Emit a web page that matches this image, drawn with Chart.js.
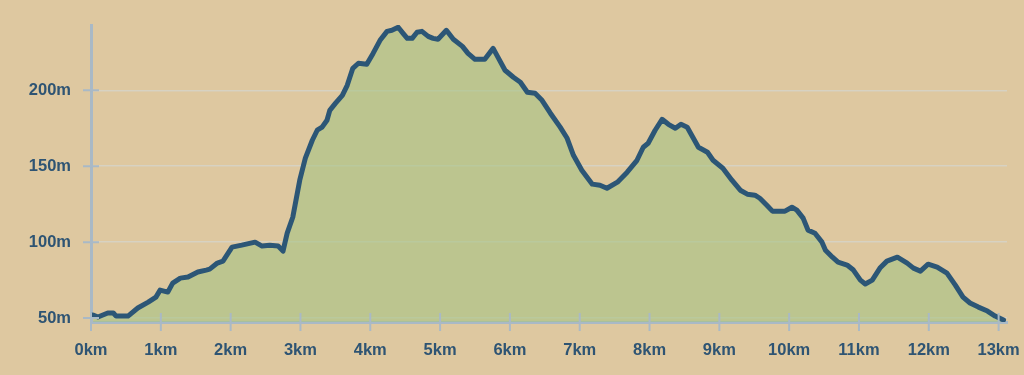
<!DOCTYPE html>
<html>
<head>
<meta charset="utf-8">
<script src="https://cdn.jsdelivr.net/npm/chart.js@4/dist/chart.umd.min.js"></script>
<style>
  html, body { margin: 0; padding: 0; background: #dec8a0; }
  canvas { display: block; }
</style>
</head>
<body>
<canvas id="profile" width="1024" height="375"></canvas>
<script>
// distance along the route (km) and elevation (m)
const distanceKm = [
  0.03, 0.10, 0.24, 0.32, 0.36, 0.53, 0.67, 0.82, 0.93, 0.99,
  1.10, 1.17, 1.28, 1.39, 1.53, 1.65, 1.70, 1.81, 1.89, 2.02,
  2.16, 2.35, 2.45, 2.56, 2.68, 2.75, 2.81, 2.89, 2.99, 3.07,
  3.17, 3.24, 3.31, 3.38, 3.42, 3.50, 3.60, 3.67, 3.75, 3.83,
  3.95, 4.04, 4.14, 4.24, 4.31, 4.40, 4.47, 4.53, 4.60, 4.67,
  4.74, 4.83, 4.90, 4.97, 5.09, 5.19, 5.32, 5.40, 5.50, 5.64,
  5.76, 5.83, 5.93, 6.05, 6.15, 6.25, 6.36, 6.46, 6.58, 6.72,
  6.82, 6.91, 7.03, 7.18, 7.29, 7.39, 7.54, 7.68, 7.82, 7.91,
  7.98, 8.08, 8.18, 8.27, 8.37, 8.45, 8.54, 8.62, 8.70, 8.83,
  8.91, 9.05, 9.18, 9.30, 9.40, 9.51, 9.58, 9.68, 9.76, 9.94,
  10.04, 10.11, 10.20, 10.27, 10.37, 10.47, 10.52, 10.62, 10.70, 10.83,
  10.92, 11.02, 11.09, 11.19, 11.30, 11.40, 11.55, 11.69, 11.78, 11.88,
  11.99, 12.12, 12.26, 12.38, 12.49, 12.59, 12.71, 12.84, 12.95, 13.07
];
const elevationM = [
  52.0, 50.7, 53.3, 53.3, 51.3, 51.3, 56.6, 60.5, 63.8, 68.4,
  67.1, 73.0, 76.3, 77.0, 80.3, 81.6, 82.2, 86.2, 87.5, 96.7,
  98.0, 100.0, 97.4, 98.0, 97.4, 94.1, 105.9, 116.4, 140.8, 155.3,
  167.1, 173.7, 175.7, 180.3, 186.8, 191.4, 196.7, 203.3, 214.5, 217.8,
  217.1, 224.3, 232.9, 238.8, 239.5, 241.5, 237.5, 234.2, 234.2, 238.2,
  238.8, 235.5, 234.2, 233.6, 239.5, 233.6, 228.9, 224.3, 220.4, 220.4,
  227.6, 221.7, 213.2, 208.6, 205.3, 198.7, 198.0, 193.4, 184.9, 175.7,
  168.4, 157.2, 147.4, 138.2, 137.5, 135.5, 139.5, 146.1, 153.9, 162.5,
  165.1, 173.7, 180.9, 177.6, 175.0, 177.6, 175.7, 169.1, 162.5, 159.2,
  153.9, 148.7, 140.8, 134.2, 131.6, 130.9, 128.9, 124.3, 120.4, 120.4,
  123.0, 121.1, 115.8, 107.9, 105.9, 100.0, 94.7, 90.1, 86.8, 84.9,
  81.6, 75.0, 72.4, 75.0, 82.9, 87.5, 90.1, 86.2, 82.9, 80.9,
  85.5, 83.6, 79.6, 71.7, 63.8, 59.9, 57.2, 54.6, 51.3, 48.7
];
const xTicks = [0, 1, 2, 3, 4, 5, 6, 7, 8, 9, 10, 11, 12, 13];
const yTicks = [50, 100, 150, 200];

const axisColor = '#a9b9c6';
const labelColor = '#2e5473';

// little crossing tick marks on both axes
const tickMarks = {
  id: 'tickMarks',
  afterDatasetsDraw(chart) {
    const { ctx, chartArea: a, scales: { x, y } } = chart;
    ctx.save();
    ctx.strokeStyle = axisColor;
    ctx.lineWidth = 2;
    ctx.beginPath();
    yTicks.forEach(v => {
      const py = y.getPixelForValue(v);
      ctx.moveTo(a.left - 8, py);
      ctx.lineTo(a.left + 8, py);
    });
    xTicks.forEach(v => {
      const px = x.getPixelForValue(v);
      ctx.moveTo(px, a.bottom - 9);
      ctx.lineTo(px, a.bottom + 9);
    });
    ctx.stroke();
    ctx.restore();
  }
};

new Chart(document.getElementById('profile'), {
  type: 'line',
  data: {
    datasets: [{
      data: distanceKm.map((d, i) => ({ x: d, y: elevationM[i] })),
      borderColor: '#2c5676',
      borderWidth: 5,
      borderJoinStyle: 'round',
      borderCapStyle: 'round',
      backgroundColor: 'rgba(165, 195, 132, 0.6)',
      fill: 'start',
      pointRadius: 0,
      tension: 0
    }]
  },
  options: {
    responsive: false,
    animation: false,
    devicePixelRatio: 1,
    layout: { padding: { top: 25, right: 17, left: 0, bottom: 0 } },
    plugins: {
      legend: { display: false },
      tooltip: { enabled: false }
    },
    scales: {
      x: {
        type: 'linear',
        min: 0,
        max: 13.12,
        afterFit: s => { s.height = 53; s.paddingLeft = 0; s.paddingRight = 0; },
        afterBuildTicks: s => { s.ticks = xTicks.map(v => ({ value: v })); },
        grid: { drawOnChartArea: false, drawTicks: false },
        border: { display: true, color: axisColor, width: 3 },
        ticks: {
          padding: 19,
          color: labelColor,
          font: { family: 'Liberation Sans, Arial, sans-serif', size: 16.5, weight: 'bold' },
          callback: v => v + 'km'
        }
      },
      y: {
        min: 47.4,
        max: 243,
        afterFit: s => { s.width = 91; s.paddingTop = 0; s.paddingBottom = 0; },
        afterBuildTicks: s => { s.ticks = yTicks.map(v => ({ value: v })); },
        grid: { color: 'rgba(214, 212, 200, 0.85)', lineWidth: 1.5, drawTicks: false },
        border: { display: true, color: axisColor, width: 3 },
        ticks: {
          padding: 20,
          color: labelColor,
          font: { family: 'Liberation Sans, Arial, sans-serif', size: 16.5, weight: 'bold' },
          callback: v => v + 'm'
        }
      }
    }
  },
  plugins: [tickMarks]
});
</script>
</body>
</html>
